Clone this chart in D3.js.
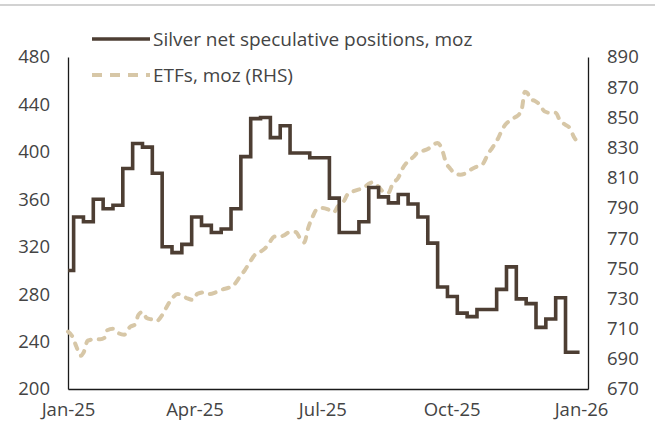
<!DOCTYPE html>
<html>
<head>
<meta charset="utf-8">
<script src="https://cdn.jsdelivr.net/npm/d3@7"></script>
<style>
  body { margin: 0; background: #fff; }
  svg text { font-family: "Open Sans", sans-serif; fill: #444; }
</style>
</head>
<body>
<div id="chart"></div>
<script>
// weekly net speculative positions (moz); first value holds from Jan 1, then weekly steps
const silverStart = "2025-01-01";
const silverFirstWeek = "2025-01-05";
const silverEnd = "2025-12-31";
const silverValues = [300, 345, 341, 360, 352, 355, 386, 407, 404, 382,
  320, 315, 322, 345, 338, 332, 335, 352, 396, 428,
  429, 412, 422, 399, 399, 395, 395, 361, 332, 332,
  341, 370, 362, 357, 364, 356, 345, 323, 286, 278,
  264, 261, 267, 267, 284, 303, 276, 272, 252, 259,
  277, 231];

// ETF holdings (moz, RHS)
const etfDates = ["2025-01-01", "2025-01-04", "2025-01-07", "2025-01-10", "2025-01-12",
  "2025-01-15", "2025-01-20", "2025-01-24", "2025-01-27", "2025-01-29",
  "2025-02-02", "2025-02-06", "2025-02-10", "2025-02-14", "2025-02-18",
  "2025-02-20", "2025-02-23", "2025-02-26", "2025-03-02", "2025-03-05",
  "2025-03-09", "2025-03-12", "2025-03-16", "2025-03-20", "2025-03-23",
  "2025-03-27", "2025-03-31", "2025-04-03", "2025-04-08", "2025-04-12",
  "2025-04-16", "2025-04-21", "2025-04-25", "2025-04-29", "2025-05-03",
  "2025-05-07", "2025-05-11", "2025-05-14", "2025-05-18", "2025-05-21",
  "2025-05-25", "2025-05-28", "2025-06-01", "2025-06-04", "2025-06-08",
  "2025-06-12", "2025-06-15", "2025-06-18", "2025-06-21", "2025-06-24",
  "2025-06-27", "2025-07-01", "2025-07-05", "2025-07-09", "2025-07-12",
  "2025-07-16", "2025-07-19", "2025-07-23", "2025-07-26", "2025-07-30",
  "2025-08-03", "2025-08-06", "2025-08-10", "2025-08-13", "2025-08-17",
  "2025-08-20", "2025-08-24", "2025-08-27", "2025-08-31", "2025-09-04",
  "2025-09-07", "2025-09-11", "2025-09-14", "2025-09-18", "2025-09-21",
  "2025-09-24", "2025-09-27", "2025-09-30", "2025-10-03", "2025-10-07",
  "2025-10-11", "2025-10-14", "2025-10-18", "2025-10-23", "2025-10-27",
  "2025-10-30", "2025-11-03", "2025-11-06", "2025-11-09", "2025-11-12",
  "2025-11-15", "2025-11-18", "2025-11-20", "2025-11-22", "2025-11-24",
  "2025-11-26", "2025-11-29", "2025-12-03", "2025-12-06", "2025-12-10",
  "2025-12-14", "2025-12-17", "2025-12-21", "2025-12-24", "2025-12-27",
  "2025-12-30"];
const etfValues = [708, 705, 698, 692, 694,
  702, 703, 703, 704, 709,
  710, 707, 706, 711, 713,
  719, 721, 717, 716, 715,
  719, 724, 730, 733, 732,
  730, 729, 733, 734, 733,
  734, 736, 737, 739, 744,
  749, 755, 759, 761, 763,
  768, 771, 771, 772, 774,
  774, 770, 767, 777, 784,
  789, 790, 789, 787, 791,
  794, 799, 801, 802, 803,
  806, 807, 804, 801, 800,
  806, 810, 816, 821, 824,
  827, 828, 829, 832, 833,
  829, 820, 816, 813, 812,
  813, 815, 817, 819, 826,
  830, 836, 842, 846, 848,
  850, 852, 856, 867, 866,
  862, 861, 858, 854, 853,
  853, 848, 845, 843, 837,
  833];

const xTickDates = ["2025-01-01", "2025-04-01", "2025-07-01", "2025-10-01", "2026-01-01"];
const xTickLabels = ["Jan-25", "Apr-25", "Jul-25", "Oct-25", "Jan-26"];
const leftTicks = [200, 240, 280, 320, 360, 400, 440, 480];
const rightTicks = [670, 690, 710, 730, 750, 770, 790, 810, 830, 850, 870, 890];
const seriesNames = ["Silver net speculative positions, moz", "ETFs, moz (RHS)"];

const width = 655, height = 445;
const margin = {top: 57, right: 67, bottom: 56, left: 68};
const silverColor = "#4d3e33", etfColor = "#d7c7a7";

const parse = d3.timeParse("%Y-%m-%d");

const svg = d3.select("#chart").append("svg")
  .attr("width", width)
  .attr("height", height);

// thin grey rule along the top
svg.append("line")
  .attr("x1", 0).attr("x2", width)
  .attr("y1", 5).attr("y2", 5)
  .attr("stroke", "#d2d2d2").attr("stroke-width", 2);

const x = d3.scaleTime()
  .domain([parse("2025-01-01"), parse("2026-01-06")])
  .range([margin.left, width - margin.right]);

const yLeft = d3.scaleLinear()
  .domain([200, 480])
  .range([height - margin.bottom, margin.top]);

const yRight = d3.scaleLinear()
  .domain([670, 890])
  .range([height - margin.bottom, margin.top]);

// silver series: start, weekly steps, then hold last value to year end
const silverDates = [parse(silverStart)].concat(
  silverValues.slice(1).map((v, i) => d3.timeWeek.offset(parse(silverFirstWeek), i))
);
const silverData = silverValues.map((v, i) => ({date: silverDates[i], value: v}));
silverData.push({date: parse(silverEnd), value: silverValues[silverValues.length - 1]});

const etfData = etfDates.map((d, i) => ({date: parse(d), value: etfValues[i]}));

// axes
function styleAxis (g) {
  g.select(".domain").attr("stroke", "#1a1a1a").attr("stroke-width", 1.3);
  g.selectAll(".tick line").remove();
  g.selectAll("text").style("font-size", "18.5px").attr("fill", "#444");
}

svg.append("g")
  .attr("transform", "translate(0," + (height - margin.bottom) + ")")
  .call(d3.axisBottom(x)
    .tickValues(xTickDates.map(parse))
    .tickFormat((d, i) => xTickLabels[i])
    .tickSize(0).tickSizeOuter(0).tickPadding(14))
  .call(styleAxis);

svg.append("g")
  .attr("transform", "translate(" + margin.left + ",0)")
  .call(d3.axisLeft(yLeft).tickValues(leftTicks)
    .tickSize(0).tickSizeOuter(0).tickPadding(18))
  .call(styleAxis);

svg.append("g")
  .attr("transform", "translate(" + (width - margin.right) + ",0)")
  .call(d3.axisRight(yRight).tickValues(rightTicks)
    .tickSize(0).tickSizeOuter(0).tickPadding(19))
  .call(styleAxis);

// lines
const etfLine = d3.line()
  .curve(d3.curveMonotoneX)
  .x(d => x(d.date))
  .y(d => yRight(d.value));

const silverLine = d3.line()
  .curve(d3.curveStepAfter)
  .x(d => x(d.date))
  .y(d => yLeft(d.value));

svg.append("path")
  .datum(etfData)
  .attr("d", etfLine)
  .attr("fill", "none")
  .attr("stroke", etfColor)
  .attr("stroke-width", 4)
  .attr("stroke-linecap", "round")
  .attr("stroke-dasharray", "6,8");

svg.append("path")
  .datum(silverData)
  .attr("d", silverLine)
  .attr("fill", "none")
  .attr("stroke", silverColor)
  .attr("stroke-width", 3.6);

// legend
const legend = svg.append("g");
const legendRows = [
  {name: seriesNames[0], y: 39, color: silverColor, dash: null, w: 3.6},
  {name: seriesNames[1], y: 75, color: etfColor, dash: "10,8", w: 4}
];
legendRows.forEach(r => {
  legend.append("line")
    .attr("x1", 92).attr("x2", 150)
    .attr("y1", r.y).attr("y2", r.y)
    .attr("stroke", r.color)
    .attr("stroke-width", r.w)
    .attr("stroke-dasharray", r.dash);
  legend.append("text")
    .attr("x", 153).attr("y", r.y)
    .attr("dy", "0.35em")
    .style("font-size", "19px")
    .text(r.name);
});
</script>
</body>
</html>
